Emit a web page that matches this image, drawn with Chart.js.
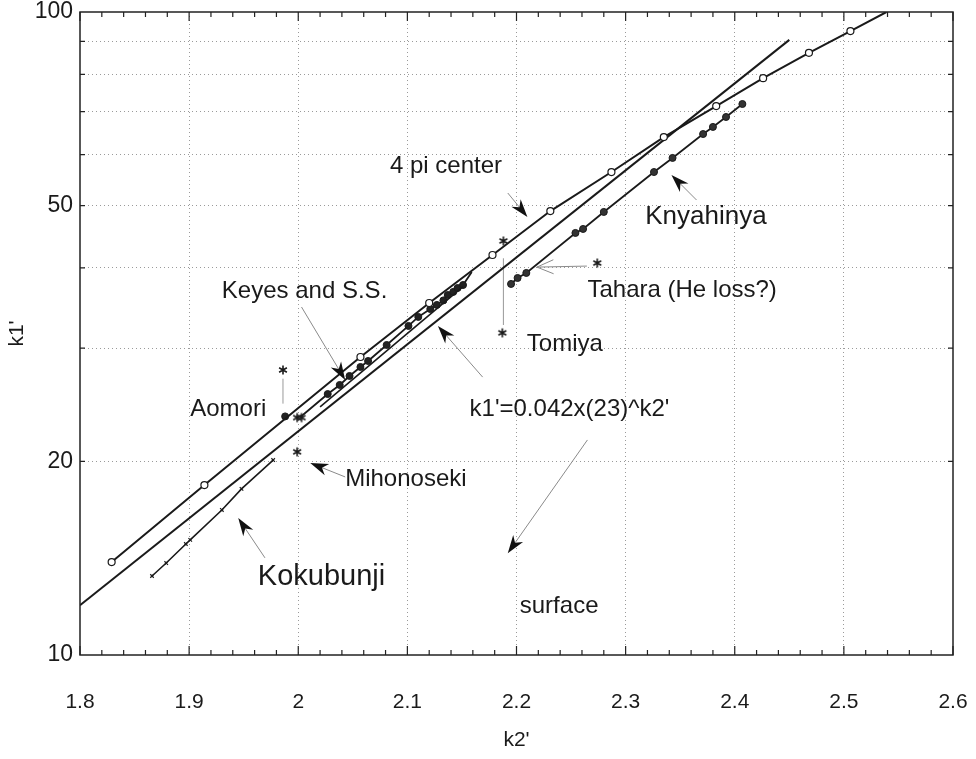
<!DOCTYPE html>
<html>
<head>
<meta charset="utf-8">
<script src="https://cdn.jsdelivr.net/npm/chart.js@4"></script>
<style>
  html, body { margin: 0; background: #fff; }
</style>
</head>
<body>
<canvas id="main" width="976" height="759"></canvas>
<script>
// values (x = k2', y = k1')
const fourPiX = [1.829, 1.914, 2.057, 2.120, 2.178, 2.231, 2.287, 2.335, 2.383, 2.426, 2.468, 2.506, 2.539];
const fourPiY = [13.95, 18.38, 29.07, 35.27, 41.89, 49.03, 56.38, 63.9, 71.4, 78.9, 86.4, 93.4, 100];

const fitX = [1.8, 2.45];
const fitY = [11.95, 90.5];

const knyX = [2.195, 2.201, 2.209, 2.254, 2.261, 2.280, 2.326, 2.343, 2.371, 2.380, 2.392, 2.407];
const knyY = [37.76, 38.58, 39.28, 45.33, 45.98, 48.87, 56.38, 59.3, 64.6, 66.26, 68.66, 71.93];

const keyesX = [2.002, 2.027, 2.038, 2.047, 2.057, 2.064, 2.081, 2.101, 2.110, 2.121, 2.127, 2.133, 2.137, 2.142, 2.146, 2.151, 2.159];
const keyesY = [23.45, 25.46, 26.3, 27.16, 28.05, 28.66, 30.35, 32.49, 33.56, 34.52, 35.03, 35.6, 36.3, 36.7, 37.22, 37.62, 39.4];

const ssX = [2.020, 2.151];
const ssY = [24.31, 37.4];

const kokuX = [1.866, 1.879, 1.897, 1.901, 1.930, 1.948, 1.977];
const kokuY = [13.27, 13.9, 14.88, 15.1, 16.81, 18.13, 20.1];

const starX = [1.986, 1.999, 2.003, 1.999, 2.187, 2.188, 2.274];
const starY = [27.75, 23.4, 23.4, 20.7, 31.7, 44.05, 40.7];

const aomoriX = [1.988];
const aomoriY = [23.5];

const aomoriBarY = [24.6, 26.9];
const tomiyaBarY = [32.6, 41.4];

const xTickValues = [1.8, 1.9, 2.0, 2.1, 2.2, 2.3, 2.4, 2.5, 2.6];
const xTickLabels = ['1.8', '1.9', '2', '2.1', '2.2', '2.3', '2.4', '2.5', '2.6'];
const yGridValues = [10, 20, 30, 40, 50, 60, 70, 80, 90, 100];
const yTickLabels = [10, 20, 50, 100];

function pts(xs, ys) {
    return xs.map((x, i) => ({ x: x, y: ys[i] }));
}

const FONT = "'Liberation Sans', Arial, Helvetica, sans-serif";
const INK = '#1a1a1a';

// labels and arrows, placed in data units
const notes = [
    { text: '4 pi center', x: 2.084, y: 57.6, size: 24 },
    { text: 'Knyahinya', x: 2.318, y: 48.1, size: 26 },
    { text: 'Keyes and S.S.', x: 1.930, y: 36.83, size: 24 },
    { text: 'Tahara (He loss?)', x: 2.265, y: 36.96, size: 24 },
    { text: 'Tomiya', x: 2.2095, y: 30.45, size: 24 },
    { text: "k1'=0.042x(23)^k2'", x: 2.157, y: 24.13, size: 24 },
    { text: 'Mihonoseki', x: 2.043, y: 18.75, size: 24 },
    { text: 'Aomori', x: 1.901, y: 24.13, size: 24 },
    { text: 'Kokubunji', x: 1.963, y: 13.22, size: 29 },
    { text: 'surface', x: 2.203, y: 11.92, size: 24 }
];

const arrows = [
    { from: [2.192, 52.3], to: [2.210, 48.0] },
    { from: [2.365, 51.0], to: [2.342, 55.8] },
    { from: [2.003, 34.77], to: [2.043, 26.78] },
    { from: [2.2645, 40.26], to: [2.2187, 40.11], open: true },
    { from: [2.169, 27.05], to: [2.128, 32.49] },
    { from: [2.043, 18.92], to: [2.011, 19.89] },
    { from: [1.9695, 14.16], to: [1.945, 16.33] },
    { from: [2.265, 21.6], to: [2.192, 14.4] }
];

// asterisk used as the point style of the single measurements
const starGlyph = document.createElement('canvas');
starGlyph.width = 12;
starGlyph.height = 12;
(function() {
    const g = starGlyph.getContext('2d');
    g.strokeStyle = INK;
    g.lineWidth = 1.6;
    g.beginPath();
    for (let k = 0; k < 3; k++) {
        const a = Math.PI / 2 + k * Math.PI / 3;
        g.moveTo(6 + 4.5 * Math.cos(a), 6 + 4.5 * Math.sin(a));
        g.lineTo(6 - 4.5 * Math.cos(a), 6 - 4.5 * Math.sin(a));
    }
    g.stroke();
})();

function drawArrow(ctx, x0, y0, x1, y1, open) {
    const ang = Math.atan2(y1 - y0, x1 - x0);
    const c = Math.cos(ang), s = Math.sin(ang);
    const L = 18, W = 6;
    ctx.strokeStyle = '#8a8a8a';
    ctx.lineWidth = 1;
    ctx.beginPath();
    ctx.moveTo(x0, y0);
    ctx.lineTo(x1 - (open ? 0 : L * 0.7) * c, y1 - (open ? 0 : L * 0.7) * s);
    ctx.stroke();
    if (open) {
        ctx.beginPath();
        ctx.moveTo(x1 + L * Math.cos(ang + Math.PI - 0.4), y1 + L * Math.sin(ang + Math.PI - 0.4));
        ctx.lineTo(x1, y1);
        ctx.lineTo(x1 + L * Math.cos(ang + Math.PI + 0.4), y1 + L * Math.sin(ang + Math.PI + 0.4));
        ctx.stroke();
        return;
    }
    ctx.fillStyle = '#111';
    ctx.beginPath();
    ctx.moveTo(x1, y1);
    ctx.lineTo(x1 - L * c - W * s, y1 - L * s + W * c);
    ctx.lineTo(x1 - L * 0.7 * c, y1 - L * 0.7 * s);
    ctx.lineTo(x1 - L * c + W * s, y1 - L * s - W * c);
    ctx.closePath();
    ctx.fill();
}

const framePlugin = {
    id: 'frame',
    afterDraw(chart) {
        const { ctx, chartArea: a, scales: { x, y } } = chart;
        ctx.save();
        ctx.strokeStyle = '#222';
        ctx.lineWidth = 1.5;
        ctx.strokeRect(a.left, a.top, a.right - a.left, a.bottom - a.top);
        ctx.lineWidth = 1.2;
        ctx.beginPath();
        // minor ticks every 0.02 along x, inward
        for (let i = 0; i <= 40; i++) {
            const px = x.getPixelForValue(1.8 + i * 0.02);
            const len = i % 5 === 0 ? 9 : 5;
            ctx.moveTo(px, a.bottom); ctx.lineTo(px, a.bottom - len);
            ctx.moveTo(px, a.top); ctx.lineTo(px, a.top + len);
        }
        yGridValues.slice(1, -1).forEach(v => {
            const py = y.getPixelForValue(v);
            ctx.moveTo(a.left, py); ctx.lineTo(a.left + 5, py);
            ctx.moveTo(a.right, py); ctx.lineTo(a.right - 5, py);
        });
        ctx.stroke();

        arrows.forEach(ar => {
            drawArrow(ctx,
                x.getPixelForValue(ar.from[0]), y.getPixelForValue(ar.from[1]),
                x.getPixelForValue(ar.to[0]), y.getPixelForValue(ar.to[1]), ar.open);
        });

        ctx.fillStyle = INK;
        ctx.textAlign = 'left';
        ctx.textBaseline = 'middle';
        notes.forEach(n => {
            ctx.font = n.size + 'px ' + FONT;
            ctx.fillText(n.text, x.getPixelForValue(n.x), y.getPixelForValue(n.y));
        });
        ctx.restore();
    }
};

const lineStyle = { showLine: true, borderColor: INK, borderWidth: 2, pointBorderColor: INK };

window.onload = function() {
    var main = document.getElementById('main').getContext('2d');
    var myChart = new Chart(main, {
        type: 'scatter',
        data: {
            datasets: [
                Object.assign({}, lineStyle, {
                    label: '4 pi center',
                    data: pts(fourPiX, fourPiY),
                    pointBackgroundColor: '#fff',
                    pointBorderWidth: 1.2,
                    pointRadius: c => c.dataIndex === fourPiX.length - 1 ? 0 : 3.5
                }),
                Object.assign({}, lineStyle, {
                    label: 'fit',
                    data: pts(fitX, fitY),
                    pointRadius: 0
                }),
                Object.assign({}, lineStyle, {
                    label: 'Knyahinya',
                    data: pts(knyX, knyY),
                    borderWidth: 1.8,
                    pointBackgroundColor: '#333',
                    pointBorderWidth: 1,
                    pointRadius: 3.5
                }),
                Object.assign({}, lineStyle, {
                    label: 'S.S.',
                    data: pts(ssX, ssY),
                    borderWidth: 1.6,
                    pointRadius: 0
                }),
                Object.assign({}, lineStyle, {
                    label: 'Keyes',
                    data: pts(keyesX, keyesY),
                    borderWidth: 1.8,
                    pointBackgroundColor: '#222',
                    pointBorderWidth: 1,
                    pointRadius: c => (c.dataIndex === 0 || c.dataIndex === keyesX.length - 1) ? 0 : 3.5
                }),
                Object.assign({}, lineStyle, {
                    label: 'Kokubunji',
                    data: pts(kokuX, kokuY),
                    borderWidth: 1.6,
                    pointStyle: 'crossRot',
                    pointBorderWidth: 1.2,
                    pointRadius: 2.5
                }),
                {
                    label: 'bars',
                    data: [{ x: 1.986, y: aomoriBarY[0] }, { x: 1.986, y: aomoriBarY[1] }, { x: null, y: null },
                           { x: 2.188, y: tomiyaBarY[0] }, { x: 2.188, y: tomiyaBarY[1] }],
                    showLine: true,
                    spanGaps: false,
                    borderColor: '#999',
                    borderWidth: 1,
                    pointRadius: 0
                },
                {
                    label: 'stars',
                    data: pts(starX, starY),
                    pointStyle: starGlyph,
                    pointRadius: 5,
                    showLine: false
                },
                {
                    label: 'Aomori',
                    data: pts(aomoriX, aomoriY),
                    pointRadius: 3.5,
                    pointBackgroundColor: '#222',
                    pointBorderColor: INK,
                    showLine: false
                }
            ]
        },
        options: {
            responsive: false,
            animation: false,
            layout: { padding: { left: 0, right: 23, top: 12, bottom: 0 } },
            plugins: { legend: { display: false }, tooltip: { enabled: false } },
            scales: {
                x: {
                    type: 'linear',
                    min: 1.8,
                    max: 2.6,
                    afterBuildTicks: s => { s.ticks = xTickValues.map(v => ({ value: v })); },
                    afterFit: s => { s.height = 104; s.paddingLeft = 0; s.paddingRight = 0; },
                    ticks: {
                        callback: (v, i) => xTickLabels[i],
                        color: INK,
                        font: { family: FONT, size: 21 },
                        padding: 35,
                        maxRotation: 0
                    },
                    grid: {
                        drawTicks: false,
                        color: c => (c.index > 0 && c.index < xTickValues.length - 1) ? '#9a9a9a' : 'rgba(0,0,0,0)',
                        lineWidth: 1
                    },
                    border: { display: false, dash: [1, 3] },
                    title: {
                        display: true,
                        text: "k2'",
                        color: INK,
                        font: { family: FONT, size: 21 },
                        padding: { top: 0, bottom: 6 }
                    }
                },
                y: {
                    type: 'logarithmic',
                    min: 10,
                    max: 100,
                    afterBuildTicks: s => { s.ticks = yGridValues.map(v => ({ value: v })); },
                    afterFit: s => { s.width = 80; s.paddingTop = 0; s.paddingBottom = 0; },
                    ticks: {
                        callback: v => yTickLabels.includes(v) ? String(v) : '',
                        color: INK,
                        font: { family: FONT, size: 23 },
                        padding: 7
                    },
                    grid: {
                        drawTicks: false,
                        color: c => (c.index > 0 && c.index < yGridValues.length - 1) ? '#9a9a9a' : 'rgba(0,0,0,0)',
                        lineWidth: 1
                    },
                    border: { display: false, dash: [1, 3] },
                    title: {
                        display: true,
                        text: "k1'",
                        color: INK,
                        font: { family: FONT, size: 21 },
                        padding: { top: 5, bottom: 0 }
                    }
                }
            }
        },
        plugins: [framePlugin]
    });
};
</script>
</body>
</html>
